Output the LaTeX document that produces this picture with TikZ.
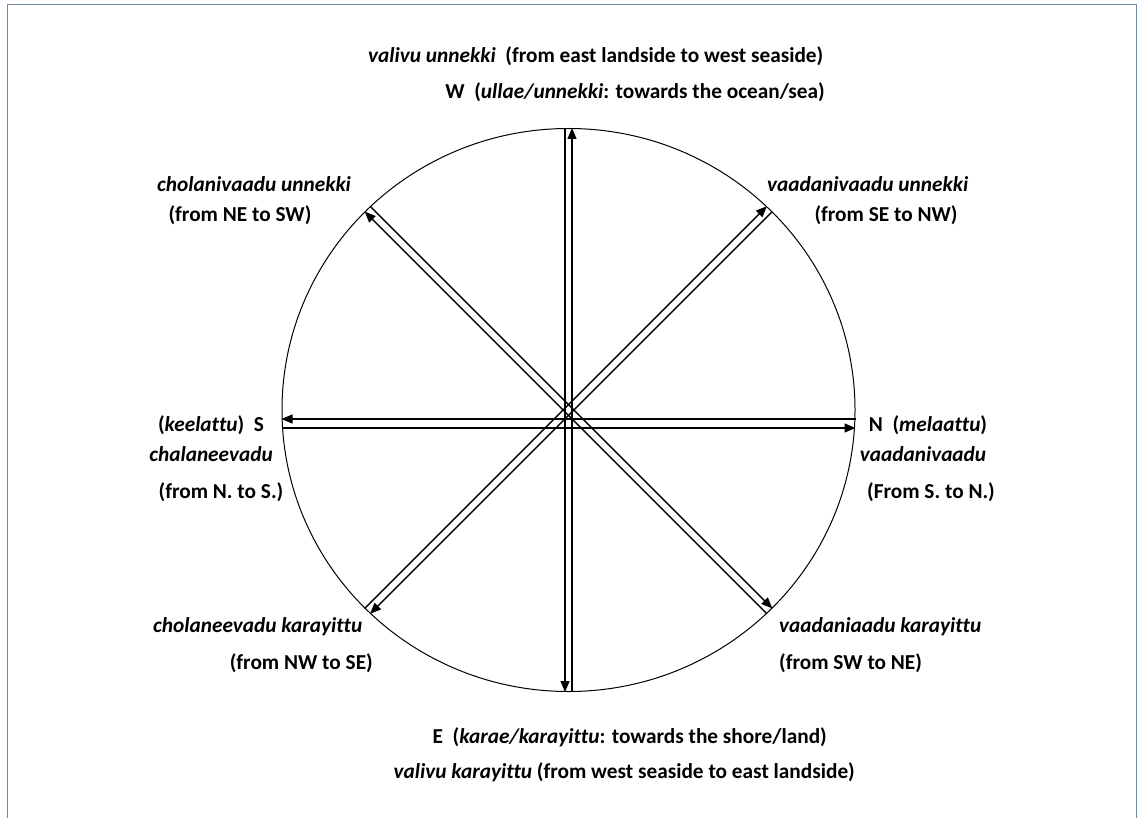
\documentclass[tikz,border=0pt]{standalone}
\usepackage{fontspec}
\setmainfont[Ligatures=NoCommon]{Carlito}
\usetikzlibrary{shapes.geometric, arrows.meta, positioning}
\definecolor{framegray}{RGB}{110,140,170}

\begin{document}
\begin{tikzpicture}[x=1pt,y=-1pt,
  rose/.style={ellipse,draw,line width=1pt,minimum width=573pt,minimum height=563pt,inner sep=0pt},
  arr/.style={-{Triangle[length=11pt,width=9pt]},line width=1.3pt},
  lbl/.style={font=\bfseries\fontsize{21.3}{25}\selectfont,inner sep=0pt,anchor=base},
  frame/.style={draw=framegray,line width=1pt}
]
  \useasboundingbox (0,0) rectangle (1147,818);
  \draw[frame] (7,818) -- (7,5) -- (1136,5) -- (1136,818);
  \node[rose](rose) at (568.5,410) {};
  \draw[arr]([xshift=3.5pt]rose.south)--([xshift=3.5pt]rose.north);
  \draw[arr]([xshift=-3.5pt]rose.north)--([xshift=-3.5pt]rose.south);
  \draw[arr]([yshift=-9pt]rose.east)--([yshift=-9pt]rose.west);
  \draw[arr]([yshift=-18pt]rose.west)--([yshift=-18pt]rose.east);
  \draw[arr]([shift={(-2.7pt,2.7pt)}]rose.225)--([shift={(-2.7pt,2.7pt)}]rose.45);
  \draw[arr]([shift={(2.7pt,-2.7pt)}]rose.45)--([shift={(2.7pt,-2.7pt)}]rose.225);
  \draw[arr]([shift={(-2.7pt,-2.7pt)}]rose.315)--([shift={(-2.7pt,-2.7pt)}]rose.135);
  \draw[arr]([shift={(2.7pt,2.7pt)}]rose.135)--([shift={(2.7pt,2.7pt)}]rose.315);
  \node[lbl,anchor=base west](valU) at (368,63) {\textit{valivu unnekki}\ \ (from east landside to west seaside)};
  \node[lbl,anchor=base east](west) at (825,99) {W\ \ (\textit{ullae/unnekki}: towards the ocean/sea)};
  \node[lbl,anchor=base west](cholU) at (157,192) {\textit{cholanivaadu unnekki}};
  \node[lbl](cholUd) at (240,222) {(from NE to SW)};
  \node[lbl,anchor=base west](vaadU) at (767,192) {\textit{vaadanivaadu unnekki}};
  \node[lbl](vaadUd) at (886,222) {(from SE to NW)};
  \node[lbl](south) at (211,431) {(\textit{keelattu})\ \ S};
  \node[lbl](chal) at (211,461) {\textit{chalaneevadu}};
  \node[lbl](chald) at (221,498) {(from N. to S.)};
  \node[lbl](north) at (928,431) {N\ \ (\textit{melaattu})};
  \node[lbl](vaad) at (923,461) {\textit{vaadanivaadu}};
  \node[lbl](vaadd) at (931,498) {(From S. to N.)};
  \node[lbl,anchor=base west](cholK) at (153,632) {\textit{cholaneevadu karayittu}};
  \node[lbl,anchor=base east](cholKd) at (373,669) {(from NW to SE)};
  \node[lbl,anchor=base west](vaadK) at (779,632) {\textit{vaadaniaadu karayittu}};
  \node[lbl,anchor=base west](vaadKd) at (779,669) {(from SW to NE)};
  \node[lbl,anchor=base east](east) at (827,743) {E\ \ (\textit{karae/karayittu}: towards the shore/land)};
  \node[lbl,anchor=base east](valK) at (855,778) {\textit{valivu karayittu} (from west seaside to east landside)};
\end{tikzpicture}
\end{document}
